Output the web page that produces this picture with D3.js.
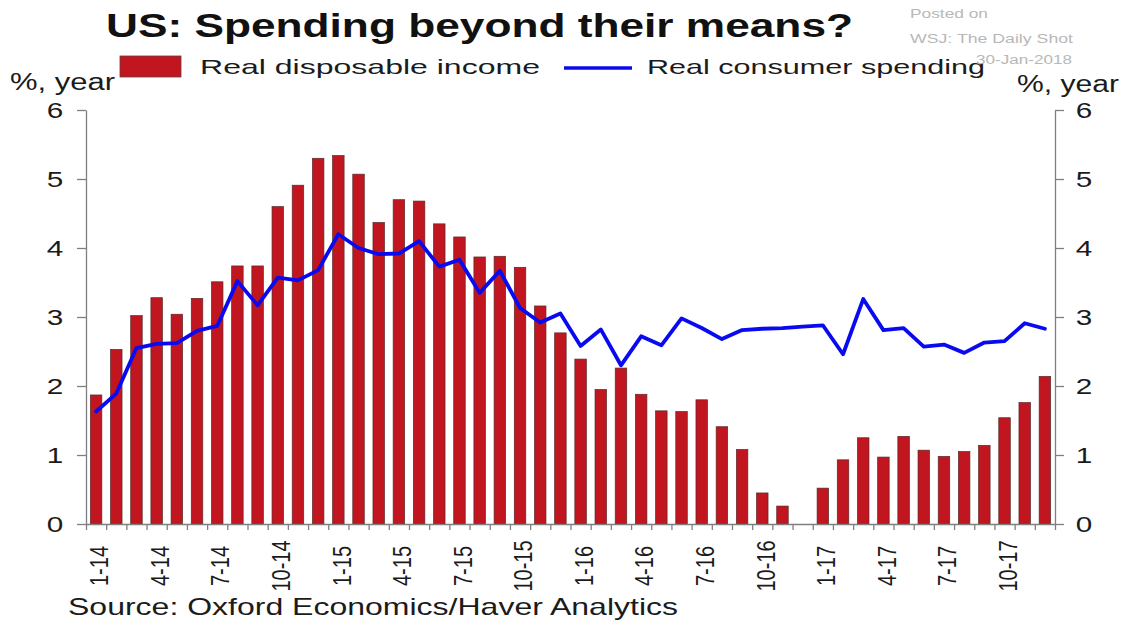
<!DOCTYPE html>
<html>
<head>
<meta charset="utf-8">
<script src="https://cdn.jsdelivr.net/npm/d3@7"></script>
<style>
  html, body { margin: 0; padding: 0; background: #fff; }
  svg { display: block; font-family: "Liberation Sans", Arial, sans-serif; }
</style>
</head>
<body>
<svg id="chart" width="1132" height="622"></svg>
<script>
// Monthly observations, Jan 2014 – Dec 2017 (% change on a year earlier)
const months = [
  "1-14","2-14","3-14","4-14","5-14","6-14","7-14","8-14","9-14","10-14","11-14","12-14",
  "1-15","2-15","3-15","4-15","5-15","6-15","7-15","8-15","9-15","10-15","11-15","12-15",
  "1-16","2-16","3-16","4-16","5-16","6-16","7-16","8-16","9-16","10-16","11-16","12-16",
  "1-17","2-17","3-17","4-17","5-17","6-17","7-17","8-17","9-17","10-17","11-17","12-17"
];

const disposableIncome = [
  1.87, 2.53, 3.02, 3.28, 3.04, 3.27, 3.51, 3.74, 3.74, 4.60, 4.91, 5.30,
  5.34, 5.07, 4.37, 4.70, 4.68, 4.35, 4.16, 3.87, 3.88, 3.72, 3.16, 2.77,
  2.39, 1.95, 2.26, 1.88, 1.64, 1.63, 1.80, 1.41, 1.08, 0.45, 0.26, 0.00,
  0.52, 0.93, 1.25, 0.97, 1.27, 1.07, 0.98, 1.05, 1.14, 1.54, 1.76, 2.14
];

const consumerSpending = [
  1.63, 1.89, 2.55, 2.61, 2.62, 2.80, 2.87, 3.52, 3.17, 3.57, 3.53, 3.68,
  4.20, 4.00, 3.91, 3.92, 4.10, 3.73, 3.83, 3.35, 3.67, 3.13, 2.92, 3.05,
  2.58, 2.82, 2.30, 2.72, 2.59, 2.98, 2.84, 2.68, 2.81, 2.83, 2.84, 2.86,
  2.88, 2.46, 3.26, 2.81, 2.84, 2.57, 2.60, 2.48, 2.63, 2.65, 2.91, 2.83
];

const xTickLabels = ["1-14","4-14","7-14","10-14","1-15","4-15","7-15","10-15",
                     "1-16","4-16","7-16","10-16","1-17","4-17","7-17","10-17"];
const yTicks = [0, 1, 2, 3, 4, 5, 6];

const seriesNames = ["Real disposable income", "Real consumer spending"];
const titleText = "US: Spending beyond their means?";
const sourceText = "Source: Oxford Economics/Haver Analytics";
const unitText = "%, year";
const stamp = ["Posted on", "WSJ: The Daily Shot", "30-Jan-2018"];

const svg = d3.select("#chart");
const BAR = "#c1161f", LINE = "#0a0af0", AXIS = "#7f7f7f", INK = "#1b1b1b";
const plot = { left: 86, right: 1055, top: 110, bottom: 524 };

// horizontally widened lettering
function widen(sel, factor) {
  sel.each(function () {
    const len = this.getComputedTextLength();
    d3.select(this).attr("textLength", len * factor).attr("lengthAdjust", "spacingAndGlyphs");
  });
}
function fit(sel, width) {
  sel.attr("textLength", width).attr("lengthAdjust", "spacingAndGlyphs");
}

const x = d3.scaleBand().domain(months)
  .range([plot.left, plot.right]).paddingInner(0.43).paddingOuter(0.215);
const xEdge = d3.scaleLinear().domain([0, months.length]).range([plot.left, plot.right]);
const y = d3.scaleLinear().domain([0, 6]).range([plot.bottom, plot.top]);

// bars
svg.append("g").selectAll("rect").data(disposableIncome).join("rect")
  .attr("x", (d, i) => x(months[i]))
  .attr("width", x.bandwidth())
  .attr("y", d => y(d))
  .attr("height", d => y(0) - y(d))
  .attr("fill", BAR)
  .attr("stroke", "#5a2a2a")
  .attr("stroke-width", 0.7)
  .attr("display", d => d > 0 ? null : "none");

// line
const line = d3.line()
  .x((d, i) => x(months[i]) + x.bandwidth() / 2)
  .y(d => y(d));
svg.append("path").datum(consumerSpending)
  .attr("d", line)
  .attr("fill", "none")
  .attr("stroke", LINE)
  .attr("stroke-width", 3.8)
  .attr("stroke-linejoin", "round")
  .attr("stroke-linecap", "round");

// axes
function styleAxis(g) {
  g.select(".domain").attr("stroke", AXIS).attr("stroke-width", 1.3);
  g.selectAll(".tick line").attr("stroke", AXIS).attr("stroke-width", 1.3);
  g.selectAll(".tick text").attr("fill", INK).attr("font-size", 22);
}
const left = svg.append("g").attr("transform", `translate(${plot.left},0)`)
  .call(d3.axisLeft(y).tickValues(yTicks).tickSize(9).tickSizeOuter(0).tickPadding(11).tickFormat(d3.format("d")))
  .call(styleAxis);
left.selectAll(".tick text").attr("text-anchor", "middle").attr("x", -31).call(widen, 1.35);

const right = svg.append("g").attr("transform", `translate(${plot.right},0)`)
  .call(d3.axisRight(y).tickValues(yTicks).tickSize(9).tickSizeOuter(0).tickPadding(11).tickFormat(d3.format("d")))
  .call(styleAxis);
right.selectAll(".tick text").attr("text-anchor", "middle").attr("x", 29).call(widen, 1.35);

const bottom = svg.append("g").attr("transform", `translate(0,${plot.bottom})`)
  .call(d3.axisBottom(xEdge).tickValues(d3.range(months.length + 1)).tickSize(6).tickSizeOuter(0).tickFormat(""))
  .call(styleAxis);

// quarterly month labels, read upwards
svg.append("g").selectAll("text").data(xTickLabels).join("text")
  .attr("transform", d => `translate(${x(d) + x.bandwidth() / 2 + 3},566) rotate(-90) scale(1,1.28)`)
  .attr("text-anchor", "middle")
  .attr("dy", "0.36em")
  .attr("font-size", 20)
  .attr("fill", INK)
  .text(d => d);

// title
svg.append("text").attr("x", 106).attr("y", 37)
  .attr("font-size", 33.5).attr("font-weight", "bold").attr("fill", "#111")
  .text(titleText).call(fit, 747);

// legend
svg.append("rect").attr("x", 120).attr("y", 56).attr("width", 61).attr("height", 21)
  .attr("fill", BAR).attr("stroke", "#6a3a3a").attr("stroke-width", 0.8);
svg.append("text").attr("x", 200).attr("y", 74).attr("font-size", 21).attr("fill", INK)
  .text(seriesNames[0]).call(fit, 340);
svg.append("line").attr("x1", 564).attr("x2", 632).attr("y1", 68).attr("y2", 68)
  .attr("stroke", LINE).attr("stroke-width", 3.5);
svg.append("text").attr("x", 647).attr("y", 74).attr("font-size", 21).attr("fill", INK)
  .text(seriesNames[1]).call(fit, 338);

// unit labels
svg.append("text").attr("x", 10).attr("y", 90).attr("font-size", 23).attr("fill", INK)
  .text(unitText).call(fit, 105);
svg.append("text").attr("x", 1017).attr("y", 92).attr("font-size", 23).attr("fill", INK)
  .text(unitText).call(fit, 102);

// posting stamp
const stampPos = [[910, 18, 78], [910, 43, 163], [976, 64, 96]];
svg.append("g").selectAll("text").data(stamp).join("text")
  .attr("x", (d, i) => stampPos[i][0]).attr("y", (d, i) => stampPos[i][1])
  .attr("font-size", 12.5).attr("fill", "#b8b8b8")
  .text(d => d)
  .each(function (d, i) { d3.select(this).call(fit, stampPos[i][2]); });

// source
svg.append("text").attr("x", 68).attr("y", 615).attr("font-size", 24).attr("fill", INK)
  .text(sourceText).call(fit, 610);
</script>
</body>
</html>
